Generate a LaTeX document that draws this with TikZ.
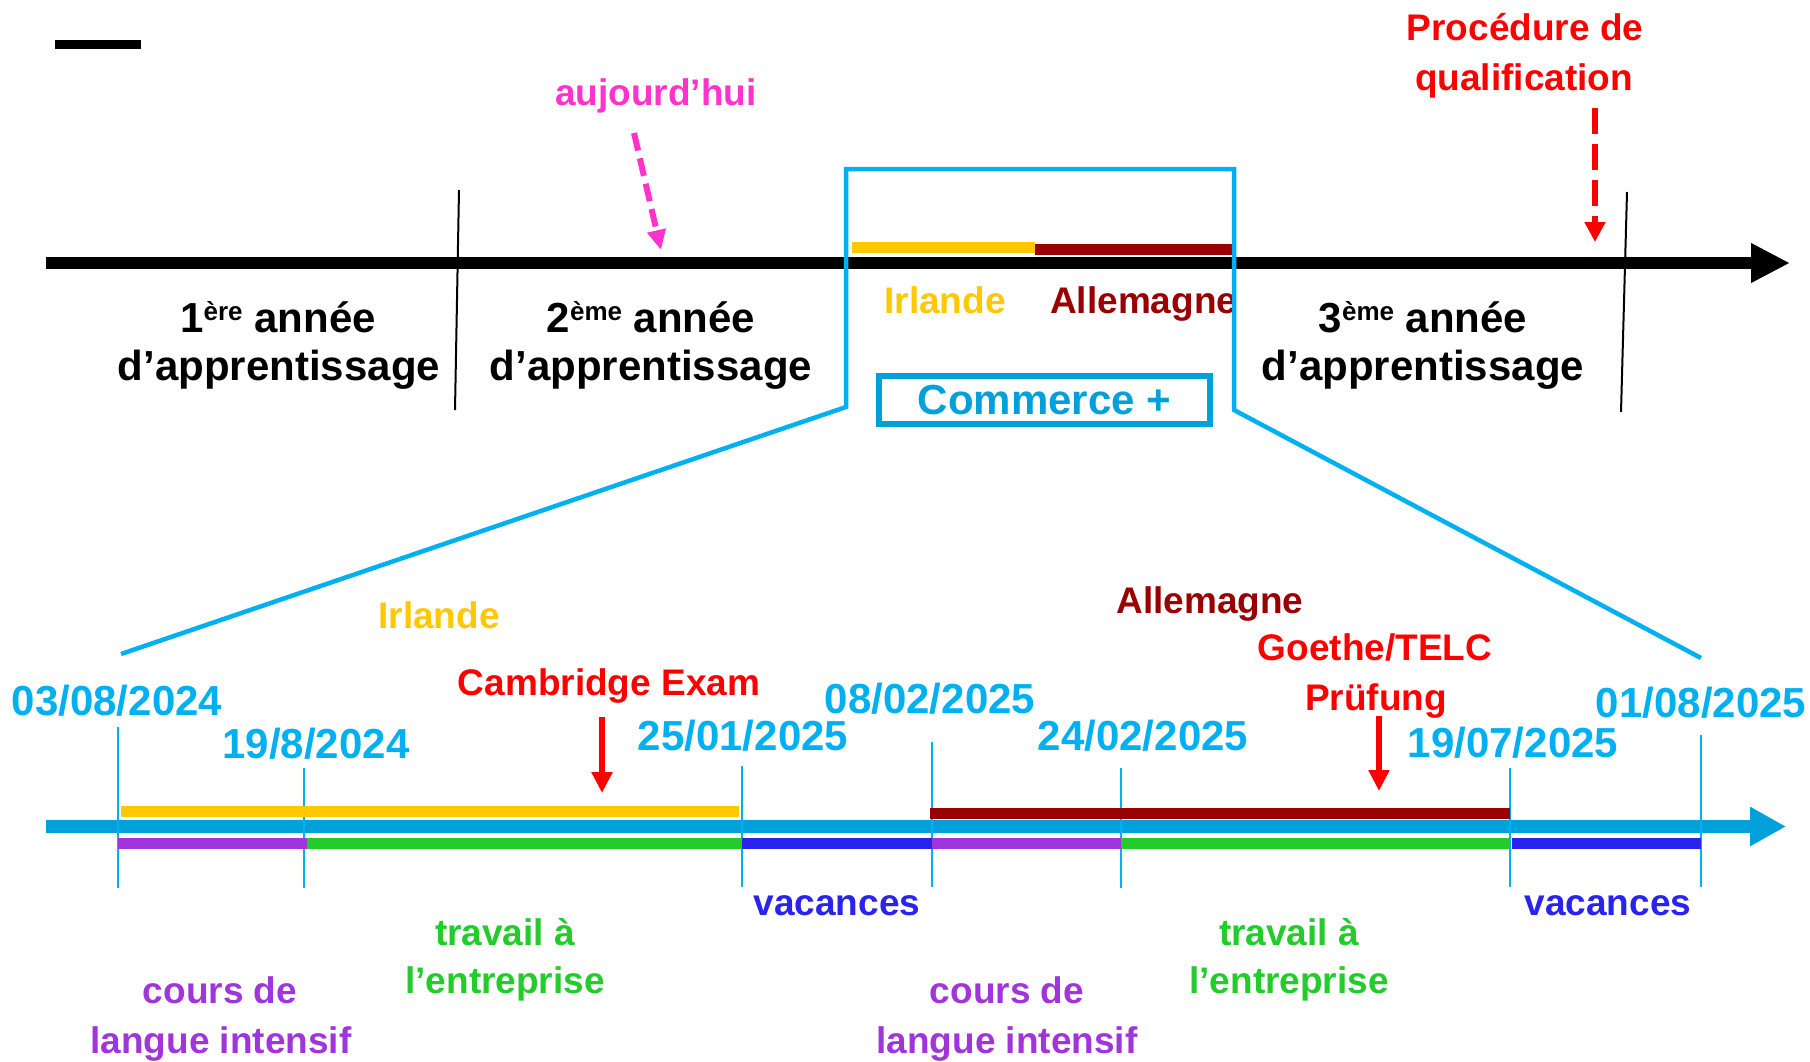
\documentclass[tikz,border=0pt]{standalone}
\usepackage{fontspec}
\setmainfont{Liberation Sans}
\usetikzlibrary{arrows.meta}
\definecolor{sky}{HTML}{00B0F0}
\definecolor{cblue}{HTML}{00A0DA}
\definecolor{gold}{HTML}{FFC800}
\definecolor{dred}{HTML}{990000}
\definecolor{pinkm}{HTML}{FF33CC}
\definecolor{purp}{HTML}{A035DC}
\definecolor{grn}{HTML}{22CC2A}
\definecolor{dblue}{HTML}{2A22EE}
\newcommand\mysup[1]{\raisebox{12pt}{\fontsize{26}{26}\selectfont #1}}
\begin{document}
\begin{tikzpicture}[x=1pt,y=-1pt,
  txt/.style={inner sep=0pt, anchor=base, font=\bfseries\fontsize{37}{40}\selectfont},
  big/.style={inner sep=0pt, anchor=base, font=\bfseries\fontsize{42}{46}\selectfont},
  datelab/.style={big, text=sky},
  bar/.style={line width=11pt},
  tickline/.style={sky, line width=2pt},
  divider/.style={black, line width=2pt},
  bracket/.style={sky, line width=4.5pt, line join=miter},
]
\useasboundingbox (0,0) rectangle (1810,1061);
\fill[white] (0,0) rectangle (1810,1061);

% stray bar
\coordinate (s1) at (55,44.5);
\coordinate (s2) at (141,44.5);
\draw[line width=9pt] (s1) -- (s2);

% main timeline
\coordinate (m0) at (46,263);
\coordinate (m1) at (1790,263);
\draw[line width=12pt, -{Triangle[length=39pt,width=37pt]}] (m0) -- (m1);

% top bars
\draw[bar, gold] (852,247.5) -- (1035,247.5);
\draw[bar, dred] (1035,249.5) -- (1233,249.5);

% dividers
\draw[divider] (459,190) -- (455,410);
\draw[divider] (1627,192) -- (1621,412);

% top labels
\node[txt, text=pinkm] (auj) at (656,105) {aujourd’hui};
\coordinate (aujA) at (634,133);
\coordinate (aujB) at (661,250);
\draw[pinkm, line width=6pt, dash pattern=on 18pt off 8pt, -{Triangle[length=20pt,width=18pt]}] (aujA) -- (aujB);

\node[txt, text=red] (proc1) at (1525,40) {Procédure de};
\node[txt, text=red] (proc2) at (1524,90) {qualification};
\coordinate (procA) at (1595,108);
\coordinate (procB) at (1595,242);
\draw[red, line width=6pt, dash pattern=on 26pt off 10pt, -{Triangle[length=20pt,width=20pt]}] (procA) -- (procB);

\node[big] (y1a) at (278,332) {1\mysup{ère} année};
\node[big] (y1b) at (279,380) {d’apprentissage};
\node[big] (y2a) at (651,332) {2\mysup{ème} année};
\node[big] (y2b) at (651,380) {d’apprentissage};
\node[big] (y3a) at (1423,332) {3\mysup{ème} année};
\node[big] (y3b) at (1423,380) {d’apprentissage};

\node[txt, text=gold] (irl1) at (945,313) {Irlande};
\node[txt, text=dred, anchor=base west] (all1) at (1050,313) {Allemagne};

% bracket
\draw[bracket] (121,654) -- (846,407) -- (846,169) -- (1234,169) -- (1234,410) -- (1701,658);

% Commerce + box
\node[draw=cblue, line width=6pt, minimum width=331pt, minimum height=48pt, inner sep=0pt,
      text=cblue, font=\bfseries\fontsize{42}{46}\selectfont] (com) at (1044.5,400) {Commerce +};

% lower timeline
\coordinate (l0) at (46,826.5);
\coordinate (l1) at (1786,826.5);
\draw[cblue, line width=13pt, -{Triangle[length=36pt,width=37pt]}] (l0) -- (l1);

% ticks
\draw[tickline] (118,727) -- (118,888);
\draw[tickline] (304,768) -- (304,888);
\draw[tickline] (742,766) -- (742,887);
\draw[tickline] (932,742) -- (932,887);
\draw[tickline] (1121,768) -- (1121,888);
\draw[tickline] (1510,768) -- (1510,887);
\draw[tickline] (1701,735) -- (1701,887);

% lower bars
\draw[bar, gold] (121,811.5) -- (739,811.5);
\draw[bar, dred] (930,813.5) -- (1510,813.5);
\draw[bar, purp] (118,843.5) -- (307,843.5);
\draw[bar, grn] (307,843.5) -- (742,843.5);
\draw[bar, dblue] (742,843.5) -- (932,843.5);
\draw[bar, purp] (932,843.5) -- (1121,843.5);
\draw[bar, grn] (1121,843.5) -- (1510,843.5);
\draw[bar, dblue] (1512,843.5) -- (1701,843.5);

% dates
\node[datelab] (d1) at (117,715) {03/08/2024};
\node[datelab] (d2) at (316,758) {19/8/2024};
\node[datelab] (d3) at (743,750) {25/01/2025};
\node[datelab] (d4) at (930,713) {08/02/2025};
\node[datelab] (d5) at (1143,750) {24/02/2025};
\node[datelab] (d6) at (1513,757) {19/07/2025};
\node[datelab] (d7) at (1701,717) {01/08/2025};

% lower labels
\node[txt, text=gold] (irl2) at (439,628) {Irlande};
\node[txt, text=dred] (all2) at (1210,613) {Allemagne};
\node[txt, text=red] (camb) at (609,695) {Cambridge Exam};
\node[txt, text=red] (goe1) at (1375,660) {Goethe/TELC};
\node[txt, text=red] (goe2) at (1376,710) {Prüfung};
\coordinate (cA) at (602,717);
\coordinate (cB) at (602,793);
\draw[red, line width=6pt, -{Triangle[length=21pt,width=20pt]}] (cA) -- (cB);
\coordinate (gA) at (1379,716);
\coordinate (gB) at (1379,791);
\draw[red, line width=6pt, -{Triangle[length=21pt,width=20pt]}] (gA) -- (gB);

\node[txt, text=dblue] (vac1) at (837,915) {vacances};
\node[txt, text=dblue] (vac2) at (1608,915) {vacances};
\node[txt, text=grn] (tr1a) at (505,945) {travail à};
\node[txt, text=grn] (tr1b) at (505,993) {l’entreprise};
\node[txt, text=grn] (tr2a) at (1289,945) {travail à};
\node[txt, text=grn] (tr2b) at (1289,993) {l’entreprise};
\node[txt, text=purp] (co1a) at (220,1003) {cours de};
\node[txt, text=purp] (co1b) at (221,1053) {langue intensif};
\node[txt, text=purp] (co2a) at (1007,1003) {cours de};
\node[txt, text=purp] (co2b) at (1007,1053) {langue intensif};
\end{tikzpicture}
\end{document}
